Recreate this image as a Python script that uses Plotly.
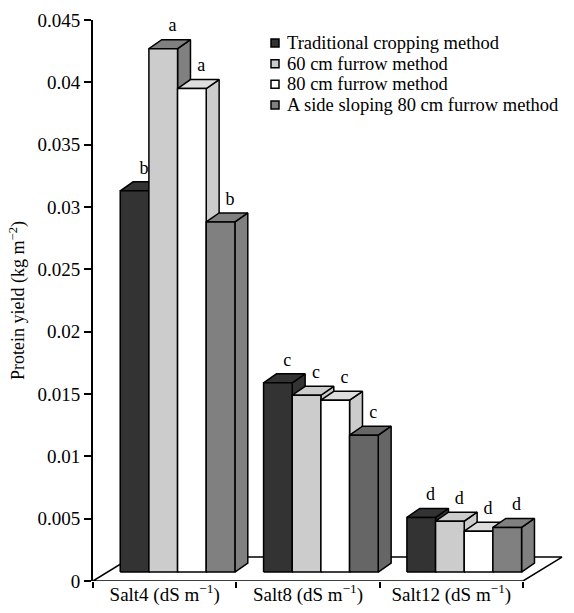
import plotly.graph_objects as go

# ---------------- data ----------------
categories = ["Salt4 (dS m<sup>−1</sup>)", "Salt8 (dS m<sup>−1</sup>)", "Salt12 (dS m<sup>−1</sup>)"]
series_names = ["Traditional cropping method", "60 cm furrow method",
                "80 cm furrow method", "A side sloping 80 cm furrow method"]
traditional = [0.0313, 0.0159, 0.0051]
furrow60 = [0.0427, 0.0149, 0.0048]
furrow80 = [0.0395, 0.0145, 0.0040]
side_sloping = [0.0288, 0.0117, 0.0043]
letters_traditional = ["b", "c", "d"]
letters_furrow60 = ["a", "c", "d"]
letters_furrow80 = ["a", "c", "d"]
letters_side_sloping = ["b", "c", "d"]
y_tick_values = [0, 0.005, 0.01, 0.015, 0.02, 0.025, 0.03, 0.035, 0.04, 0.045]
y_tick_labels = ["0", "0.005", "0.01", "0.015", "0.02", "0.025", "0.03", "0.035", "0.04", "0.045"]

values = [traditional, furrow60, furrow80, side_sloping]
letters = [letters_traditional, letters_furrow60, letters_furrow80, letters_side_sloping]

# ---------------- style ----------------
FONT = "Liberation Serif, Times New Roman, serif"
front_colors = ["#333333", "#cccccc", "#ffffff", "#808080"]
top_colors = ["#333333", "#cccccc", "#dddddd", "#808080"]
side_colors = ["#333333", "#cccccc", "#cccccc", "#808080"]
overrides = {  # (series, category) -> (front, top, side)
    (1, 0): ("#cccccc", "#808080", "#808080"),
    (3, 1): ("#666666", "#666666", "#666666"),
}
LW = 1.5
FLOOR_DX, FLOOR_DY = 0.272, 0.00192
BAR_DX, BAR_DY = 0.09, 0.00072
BASE = 0.00072
W = 0.2
START = -0.31
LABEL_GAP = 0.0003

W_PX, H_PX = 574, 613
M = dict(l=93, r=8, t=20, b=32)

def px_x(px):
    return (px - M["l"]) / (W_PX - M["l"] - M["r"])

def px_y(py):
    return (H_PX - M["b"] - py) / (H_PX - M["t"] - M["b"])

fig = go.Figure()

# floor
fig.add_trace(go.Scatter(
    x=[-0.5, 2.5, 2.5 + FLOOR_DX, -0.5 + FLOOR_DX, -0.5],
    y=[0, 0, FLOOR_DY, FLOOR_DY, 0],
    mode="lines", fill="toself", fillcolor="white",
    line=dict(color="black", width=LW), showlegend=False, hoverinfo="skip"))

def poly(xs, ys, color):
    fig.add_trace(go.Scatter(
        x=xs + [xs[0]], y=ys + [ys[0]], mode="lines", fill="toself",
        fillcolor=color, line=dict(color="black", width=LW),
        showlegend=False, hoverinfo="skip"))

lab_x, lab_y, lab_t = [], [], []
for c in range(len(categories)):
    for i in range(len(series_names)):
        v = values[i][c]
        x0 = c + START + i * W
        x1 = x0 + W
        fc, tc, sc = overrides.get((i, c), (front_colors[i], top_colors[i], side_colors[i]))
        poly([x1, x1, x1 + BAR_DX, x1 + BAR_DX],
             [BASE, v, v + BAR_DY, BASE + BAR_DY], sc)
        poly([x0, x0 + BAR_DX, x1 + BAR_DX, x1],
             [v, v + BAR_DY, v + BAR_DY, v], tc)
        poly([x0, x1, x1, x0], [BASE, BASE, v, v], fc)
        lab_x.append(x1 - 0.035)
        lab_y.append(v + BAR_DY + LABEL_GAP)
        lab_t.append(letters[i][c])

fig.add_trace(go.Scatter(
    x=lab_x, y=lab_y, text=lab_t, mode="text", textposition="top center",
    textfont=dict(family=FONT, size=18, color="black"),
    cliponaxis=False, showlegend=False, hoverinfo="skip"))

# hand-placed legend (tight rows as in the reference)
row_y = [43, 63.7, 84.3, 105]
shapes = []
annotations = []
for i, name in enumerate(series_names):
    yc = row_y[i]
    shapes.append(dict(type="rect", xref="paper", yref="paper",
                       x0=px_x(271), x1=px_x(279), y0=px_y(yc + 4), y1=px_y(yc - 4),
                       fillcolor=front_colors[i], line=dict(color="black", width=LW)))
    annotations.append(dict(text=name, xref="paper", yref="paper",
                            x=px_x(285), y=px_y(yc), xanchor="left", yanchor="middle",
                            showarrow=False, font=dict(family=FONT, size=18.5, color="black")))

fig.update_layout(
    width=W_PX, height=H_PX,
    margin=M,
    paper_bgcolor="white", plot_bgcolor="white",
    font=dict(family=FONT, size=18, color="black"),
    showlegend=False,
    shapes=shapes, annotations=annotations,
    xaxis=dict(range=[-0.5, 2.8], showgrid=False, zeroline=False, showline=False,
               automargin=False,
               tickmode="array", tickvals=[0, 1, 2], ticktext=categories, ticks="",
               tickfont=dict(family=FONT, size=19),
               minor=dict(tickmode="array", tickvals=[-0.5, 0.5, 1.5, 2.5],
                          ticks="outside", ticklen=6, tickwidth=LW, tickcolor="black")),
    yaxis=dict(range=[0, 0.045], showgrid=False, zeroline=False, automargin=False,
               showline=True, linewidth=2, linecolor="black",
               tickmode="array", tickvals=y_tick_values, ticktext=y_tick_labels,
               ticks="outside", ticklen=7, tickwidth=LW, tickcolor="black",
               tickfont=dict(family=FONT, size=19),
               title=dict(text="Protein yield (kg m<sup>−2</sup>)",
                          font=dict(family=FONT, size=18), standoff=8)),
)

fig.write_html("out.html", config={"displayModeBar": False},
               post_script="document.body.style.margin='0';")
